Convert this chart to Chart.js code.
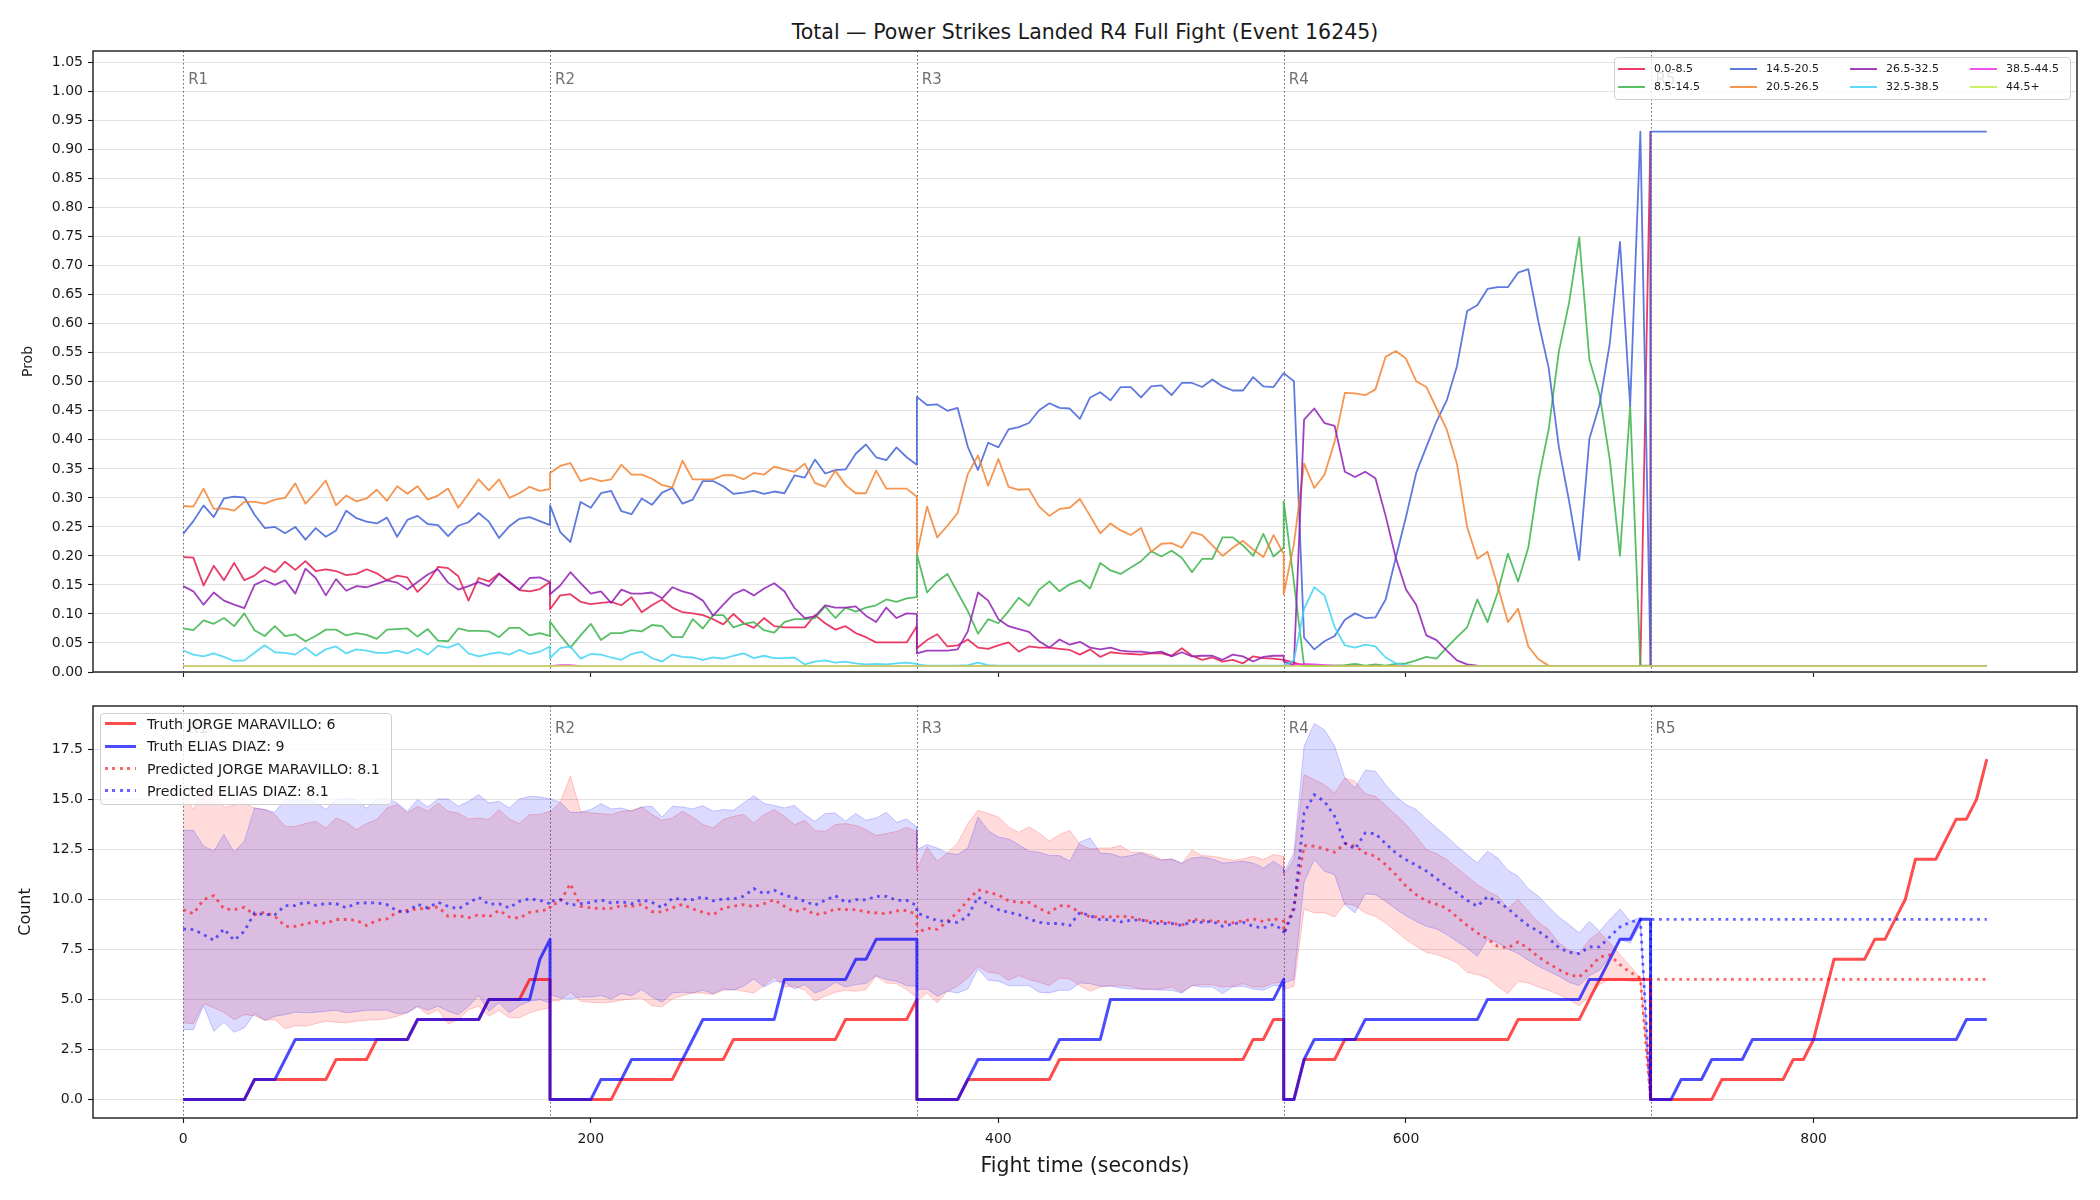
<!DOCTYPE html>
<html lang="en">
<head>
<meta charset="UTF-8">
<title>Total — Power Strikes Landed R4 Full Fight (Event 16245)</title>
<script src="https://cdn.jsdelivr.net/npm/chart.js@4.4.1/dist/chart.umd.min.js"></script>
<style>
    * { box-sizing: border-box; margin: 0; padding: 0; }
    body {
        width: 2100px; height: 1200px; background: #fff;
        position: relative; overflow: hidden;
        font-family: 'DejaVu Sans', sans-serif; color: #1a1a1a;
    }
    #chart-title {
        position: absolute; left: 93px; width: 1984px; top: 20px;
        text-align: center; font-size: 20.5px; line-height: 24px;
    }
    .panel { position: absolute; left: 0; }
    .legend {
        position: absolute; background: rgba(255, 255, 255, 0.8);
        border: 1px solid #cfcfcf; border-radius: 4px;
    }
    .legend-item { position: absolute; white-space: nowrap; }
    .legend-swatch { position: absolute; }
</style>
</head>
<body>
<div id="chart-title">Total — Power Strikes Landed R4 Full Fight (Event 16245)</div>
<canvas id="prob-chart" class="panel" width="2100" height="690" style="top:0"></canvas>
<canvas id="count-chart" class="panel" width="2100" height="510" style="top:690px"></canvas>
<div id="prob-legend" class="legend" style="left:1614px;top:57px;width:457px;height:43px"></div>
<div id="count-legend" class="legend" style="left:100px;top:713px;width:292px;height:92px"></div>

<script>
// ---- rounds / ticks ----
const roundStarts = [0, 180, 360, 540, 720];
const roundLabels = ['R1', 'R2', 'R3', 'R4', 'R5'];
const timeTicks = [0, 200, 400, 600, 800];
const probTicks = [0, 0.05, 0.10, 0.15, 0.20, 0.25, 0.30, 0.35, 0.40, 0.45, 0.50,
                   0.55, 0.60, 0.65, 0.70, 0.75, 0.80, 0.85, 0.90, 0.95, 1.00, 1.05];
const countTicks = [0, 2.5, 5, 7.5, 10, 12.5, 15, 17.5];

// samples every 5 s inside each round; rounds R1-R4 restart at their start time
function roundGrid(start, end) {
    const t = [];
    for (let v = start; v <= end; v += 5) t.push(v);
    return t;
}
const gridR1toR4 = [0, 180, 360, 540].flatMap(s => roundGrid(s, s + 180));
const probTimes = gridR1toR4.concat([720, 885]);
const truthTimes = gridR1toR4.concat(roundGrid(720, 885));
const predTimes = gridR1toR4.concat([720, 885]);
const bandTimes = gridR1toR4;

// ---- top panel: bin probabilities ----
const probBins = ['0.0-8.5', '8.5-14.5', '14.5-20.5', '20.5-26.5', '26.5-32.5', '32.5-38.5', '38.5-44.5', '44.5+'];
const binColors = ['#e6194b', '#3cb44b', '#4363d8', '#f58231', '#911eb4', '#42d4f4', '#f032e6', '#bfef45'];

const prob0to8 = [
    0.198,0.197,0.149,0.183,0.158,0.188,0.158,0.166,0.181,0.172,0.190,0.176,0.191,0.174,0.177,0.174,0.167,0.169,0.177,0.170,0.158,0.166,0.163,0.138,0.155,0.181,0.179,0.165,0.123,0.162,0.156,0.170,0.155,0.141,0.139,0.143,0.155,
    0.108,0.132,0.134,0.121,0.117,0.119,0.121,0.115,0.129,0.103,0.115,0.125,0.111,0.103,0.101,0.098,0.091,0.082,0.100,0.084,0.076,0.093,0.079,0.077,0.077,0.077,0.098,0.084,0.073,0.079,0.067,0.060,0.051,0.051,0.051,0.051,0.079,
    0.041,0.055,0.065,0.044,0.046,0.056,0.042,0.040,0.046,0.051,0.035,0.044,0.042,0.042,0.040,0.038,0.030,0.039,0.026,0.034,0.032,0.031,0.030,0.032,0.032,0.028,0.041,0.028,0.021,0.025,0.018,0.021,0.015,0.027,0.024,0.023,0.021,
    0.021,0.016,0.011,0.01,0.01,0.01,0.01,0.01,0.01,0.01,0.01,0.01,0.01,0.01,0.01,0.01,0.01,0.01,0.01,0.01,0.01,0.01,0.01,0.01,0.01,0.01,0.01,0.01,0.01,0.01,0.01,0.01,0.01,0.01,0.01,0.01,0.931,
    0.01,0.01
];
const prob8to14 = [
    0.075,0.072,0.089,0.083,0.093,0.079,0.101,0.072,0.062,0.079,0.062,0.065,0.053,0.062,0.073,0.073,0.063,0.067,0.064,0.057,0.073,0.074,0.075,0.061,0.074,0.054,0.053,0.075,0.071,0.071,0.070,0.060,0.076,0.076,0.063,0.067,0.062,
    0.087,0.063,0.042,0.063,0.083,0.055,0.067,0.067,0.072,0.070,0.081,0.079,0.060,0.060,0.091,0.075,0.098,0.098,0.077,0.083,0.086,0.072,0.068,0.086,0.091,0.091,0.093,0.113,0.093,0.111,0.104,0.111,0.115,0.125,0.121,0.127,0.129,
    0.203,0.137,0.156,0.169,0.137,0.105,0.066,0.091,0.084,0.105,0.128,0.114,0.142,0.156,0.139,0.151,0.158,0.144,0.188,0.175,0.169,0.180,0.191,0.208,0.199,0.209,0.197,0.172,0.195,0.195,0.232,0.232,0.218,0.200,0.238,0.199,0.214,
    0.294,0.155,0.011,0.011,0.011,0.011,0.012,0.014,0.011,0.013,0.011,0.014,0.015,0.020,0.026,0.023,0.042,0.060,0.077,0.125,0.086,0.137,0.204,0.156,0.214,0.331,0.418,0.552,0.636,0.749,0.538,0.478,0.366,0.200,0.459,0.011,0.011,
    0.01,0.01
];
const prob14to20 = [
    0.238,0.260,0.287,0.267,0.299,0.302,0.301,0.271,0.248,0.250,0.239,0.250,0.228,0.248,0.233,0.244,0.278,0.265,0.259,0.256,0.266,0.233,0.262,0.269,0.255,0.253,0.234,0.252,0.258,0.274,0.259,0.231,0.251,0.264,0.267,0.260,0.253,
    0.287,0.241,0.224,0.293,0.283,0.308,0.312,0.277,0.272,0.299,0.288,0.309,0.317,0.290,0.297,0.329,0.329,0.320,0.307,0.309,0.312,0.307,0.311,0.308,0.339,0.335,0.366,0.342,0.348,0.349,0.376,0.392,0.370,0.365,0.387,0.370,0.357,
    0.474,0.460,0.461,0.450,0.455,0.388,0.348,0.395,0.387,0.418,0.422,0.429,0.451,0.463,0.455,0.454,0.436,0.473,0.482,0.468,0.491,0.491,0.473,0.492,0.494,0.477,0.498,0.498,0.491,0.504,0.492,0.485,0.485,0.508,0.492,0.491,0.515,
    0.515,0.501,0.059,0.039,0.053,0.062,0.090,0.101,0.093,0.094,0.125,0.197,0.267,0.343,0.388,0.432,0.468,0.527,0.622,0.632,0.660,0.663,0.663,0.688,0.694,0.603,0.524,0.388,0.295,0.193,0.402,0.461,0.566,0.741,0.459,0.931,0.011,
    0.931,0.931
];
const prob20to26 = [
    0.286,0.285,0.316,0.281,0.282,0.278,0.293,0.293,0.290,0.297,0.300,0.325,0.290,0.309,0.330,0.287,0.304,0.294,0.299,0.314,0.295,0.320,0.307,0.320,0.297,0.304,0.316,0.283,0.307,0.332,0.313,0.332,0.300,0.308,0.319,0.312,0.315,
    0.343,0.355,0.360,0.329,0.334,0.329,0.332,0.357,0.340,0.340,0.333,0.322,0.318,0.364,0.332,0.332,0.332,0.339,0.339,0.332,0.343,0.340,0.354,0.349,0.345,0.359,0.326,0.319,0.347,0.322,0.308,0.308,0.347,0.316,0.316,0.316,0.302,
    0.203,0.285,0.232,0.252,0.274,0.341,0.373,0.321,0.367,0.319,0.314,0.315,0.285,0.269,0.281,0.283,0.298,0.269,0.239,0.256,0.244,0.236,0.248,0.207,0.221,0.222,0.214,0.241,0.236,0.218,0.200,0.214,0.226,0.211,0.198,0.236,0.203,
    0.134,0.220,0.359,0.317,0.340,0.397,0.481,0.480,0.477,0.487,0.543,0.553,0.540,0.501,0.491,0.454,0.418,0.359,0.250,0.195,0.207,0.148,0.086,0.109,0.044,0.022,0.011,0.01,0.01,0.01,0.01,0.01,0.01,0.01,0.01,0.01,0.01,
    0.01,0.01
];
const prob26to32 = [
    0.148,0.139,0.116,0.137,0.123,0.116,0.110,0.150,0.158,0.150,0.158,0.135,0.178,0.162,0.132,0.160,0.140,0.148,0.146,0.152,0.158,0.154,0.142,0.155,0.168,0.177,0.154,0.142,0.148,0.155,0.148,0.169,0.156,0.142,0.162,0.163,0.155,
    0.134,0.149,0.172,0.153,0.135,0.139,0.119,0.142,0.135,0.135,0.137,0.127,0.146,0.139,0.134,0.123,0.097,0.116,0.134,0.142,0.132,0.144,0.153,0.139,0.110,0.093,0.096,0.115,0.111,0.111,0.113,0.097,0.086,0.111,0.093,0.101,0.100,
    0.032,0.037,0.037,0.037,0.039,0.070,0.137,0.123,0.091,0.079,0.074,0.069,0.053,0.042,0.056,0.047,0.052,0.042,0.039,0.042,0.037,0.035,0.035,0.033,0.035,0.027,0.034,0.027,0.028,0.028,0.021,0.030,0.027,0.018,0.026,0.028,0.028,
    0.018,0.012,0.435,0.454,0.429,0.424,0.345,0.336,0.345,0.334,0.269,0.197,0.142,0.116,0.063,0.055,0.037,0.020,0.013,0.011,0.01,0.01,0.01,0.01,0.01,0.01,0.01,0.01,0.01,0.01,0.01,0.01,0.01,0.01,0.01,0.01,0.01,
    0.01,0.01
];
const prob32to38 = [
    0.037,0.030,0.027,0.032,0.026,0.019,0.020,0.033,0.046,0.034,0.033,0.030,0.042,0.028,0.039,0.044,0.032,0.039,0.037,0.033,0.033,0.037,0.032,0.040,0.030,0.045,0.042,0.049,0.032,0.027,0.031,0.034,0.030,0.038,0.031,0.035,0.044,
    0.024,0.041,0.044,0.023,0.031,0.030,0.025,0.021,0.031,0.035,0.024,0.018,0.030,0.026,0.025,0.021,0.025,0.023,0.028,0.032,0.024,0.028,0.024,0.024,0.025,0.013,0.018,0.020,0.016,0.018,0.015,0.013,0.014,0.013,0.015,0.016,0.014,
    0.013,0.011,0.011,0.011,0.011,0.012,0.016,0.012,0.011,0.011,0.011,0.011,0.011,0.011,0.011,0.011,0.011,0.011,0.011,0.011,0.011,0.011,0.011,0.011,0.011,0.011,0.011,0.011,0.011,0.011,0.011,0.011,0.011,0.011,0.011,0.011,0.011,
    0.011,0.020,0.109,0.146,0.132,0.077,0.046,0.042,0.047,0.044,0.025,0.015,0.012,0.01,0.01,0.01,0.01,0.01,0.01,0.01,0.01,0.01,0.01,0.01,0.01,0.01,0.01,0.01,0.01,0.01,0.01,0.01,0.01,0.01,0.01,0.01,0.01,
    0.01,0.01
];
const prob38to44 = [
    0.01,0.01,0.01,0.01,0.01,0.01,0.01,0.01,0.01,0.01,0.01,0.01,0.01,0.01,0.01,0.01,0.01,0.01,0.01,0.01,0.01,0.01,0.01,0.01,0.01,0.01,0.01,0.01,0.01,0.01,0.01,0.01,0.01,0.01,0.01,0.01,0.01,
    0.01,0.012,0.012,0.01,0.01,0.01,0.01,0.01,0.01,0.01,0.01,0.01,0.01,0.01,0.01,0.01,0.01,0.01,0.01,0.01,0.01,0.01,0.01,0.01,0.01,0.01,0.01,0.01,0.01,0.01,0.01,0.01,0.01,0.01,0.01,0.01,0.01,
    0.01,0.01,0.01,0.01,0.01,0.01,0.01,0.01,0.01,0.01,0.01,0.01,0.01,0.01,0.01,0.01,0.01,0.01,0.01,0.01,0.01,0.01,0.01,0.01,0.01,0.01,0.01,0.01,0.01,0.01,0.01,0.01,0.01,0.01,0.01,0.01,0.01,
    0.01,0.012,0.014,0.013,0.012,0.011,0.01,0.01,0.01,0.01,0.01,0.01,0.01,0.01,0.01,0.01,0.01,0.01,0.01,0.01,0.01,0.01,0.01,0.01,0.01,0.01,0.01,0.01,0.01,0.01,0.01,0.01,0.01,0.01,0.01,0.01,0.01,
    0.01,0.01
];
const prob44plus = [
    0.01,0.01,0.01,0.01,0.01,0.01,0.01,0.01,0.01,0.01,0.01,0.01,0.01,0.01,0.01,0.01,0.01,0.01,0.01,0.01,0.01,0.01,0.01,0.01,0.01,0.01,0.01,0.01,0.01,0.01,0.01,0.01,0.01,0.01,0.01,0.01,0.01,
    0.01,0.01,0.01,0.01,0.01,0.01,0.01,0.01,0.01,0.01,0.01,0.01,0.01,0.01,0.01,0.01,0.01,0.01,0.01,0.01,0.01,0.01,0.01,0.01,0.01,0.01,0.01,0.01,0.01,0.01,0.01,0.01,0.01,0.01,0.01,0.01,0.01,
    0.01,0.01,0.01,0.01,0.01,0.01,0.01,0.01,0.01,0.01,0.01,0.01,0.01,0.01,0.01,0.01,0.01,0.01,0.01,0.01,0.01,0.01,0.01,0.01,0.01,0.01,0.01,0.01,0.01,0.01,0.01,0.01,0.01,0.01,0.01,0.01,0.01,
    0.01,0.01,0.01,0.01,0.01,0.01,0.01,0.01,0.01,0.01,0.01,0.01,0.01,0.01,0.01,0.01,0.01,0.01,0.01,0.01,0.01,0.01,0.01,0.01,0.01,0.01,0.01,0.01,0.01,0.01,0.01,0.01,0.01,0.01,0.01,0.01,0.01,
    0.01,0.01
];
const probSeries = [prob0to8, prob8to14, prob14to20, prob20to26, prob26to32, prob32to38, prob38to44, prob44plus];

// ---- bottom panel: cumulative counts ----
const fighters = ['JORGE MARAVILLO', 'ELIAS DIAZ'];
const truthFinal = [6, 9];
const predFinal = [8.1, 8.1];

const truthJorge = [
    0,0,0,0,0,0,0,1,1,1, 1,1,1,1,1,2,2,2,2,3, 3,3,3,4,4,4,4,4,4,4, 5,5,5,5,6,6,6,
    0,0,0,0,0,0,0,1,1,1, 1,1,1,2,2,2,2,2,3,3, 3,3,3,3,3,3,3,3,3,4, 4,4,4,4,4,4,5,
    0,0,0,0,0,1,1,1,1,1, 1,1,1,1,2,2,2,2,2,2, 2,2,2,2,2,2,2,2,2,2, 2,2,2,3,3,4,4,
    0,0,2,2,2,2,3,3,3,3, 3,3,3,3,3,3,3,3,3,3, 3,3,3,4,4,4,4,4,4,4, 5,6,6,6,6,6,6,
    0,0,0,0,0,0,0,1,1,1, 1,1,1,1,2,2,3,5,7,7, 7,7,8,8,9,10,12,12,12,13, 14,14,15,17
];
const truthElias = [
    0,0,0,0,0,0,0,1,1,1, 2,3,3,3,3,3,3,3,3,3, 3,3,3,4,4,4,4,4,4,4, 5,5,5,5,5,7,8,
    0,0,0,0,0,1,1,1,2,2, 2,2,2,2,3,4,4,4,4,4, 4,4,4,6,6,6,6,6,6,6, 7,7,8,8,8,8,8,
    0,0,0,0,0,1,2,2,2,2, 2,2,2,2,3,3,3,3,3,5, 5,5,5,5,5,5,5,5,5,5, 5,5,5,5,5,5,6,
    0,0,2,3,3,3,3,3,4,4, 4,4,4,4,4,4,4,4,4,4, 5,5,5,5,5,5,5,5,5,5, 6,6,7,8,8,9,9,
    0,0,0,1,1,1,2,2,2,2, 3,3,3,3,3,3,3,3,3,3, 3,3,3,3,3,3,3,3,3,3, 3,4,4,4
];
const predJorge = [
    9.48,9.28,9.98,10.18,9.53,9.48,9.60,9.23,9.35,9.15,8.65,8.65,8.77,8.89,8.79,8.99,8.99,8.95,8.69,8.95,9.02,9.37,9.45,9.52,9.55,9.62,9.15,9.18,9.08,9.23,9.12,9.45,9.12,9.05,9.35,9.42,9.52,
    9.68,9.88,10.78,9.65,9.57,9.53,9.55,9.68,9.65,9.75,9.38,9.37,9.57,9.75,9.52,9.35,9.22,9.57,9.65,9.73,9.63,9.78,9.98,9.65,9.38,9.52,9.23,9.32,9.52,9.48,9.48,9.37,9.32,9.28,9.42,9.45,9.23,
    8.32,8.55,8.50,8.90,9.35,9.95,10.47,10.35,10.22,9.92,9.85,9.85,9.55,9.32,9.68,9.65,9.35,9.12,9.12,9.12,9.15,9.12,8.97,8.90,8.89,8.82,8.69,9.02,8.94,8.92,8.89,8.82,8.92,9.02,8.89,9.04,8.90,
    8.32,9.65,12.68,12.65,12.51,12.35,12.78,12.65,12.31,12.15,11.73,11.23,10.65,10.23,9.92,9.75,9.55,9.12,8.70,8.32,8.02,7.65,7.57,7.87,7.55,7.12,6.79,6.49,6.24,6.12,6.56,7.12,7.22,6.74,6.36,6.07,0,
    6,6
];
const predElias = [
    8.52,8.49,8.24,7.95,8.52,7.95,8.40,9.32,9.23,9.23,9.68,9.68,9.87,9.70,9.78,9.78,9.57,9.80,9.82,9.82,9.73,9.42,9.37,9.75,9.57,9.85,9.65,9.52,9.82,10.10,9.75,9.78,9.57,9.90,10.02,9.95,9.78,
    9.90,9.98,9.70,9.78,9.85,9.97,9.82,9.87,9.78,9.97,9.85,9.57,10.05,10.00,9.98,10.12,9.92,10.02,10.02,10.15,10.53,10.28,10.45,10.20,10.08,9.90,9.70,9.95,10.18,9.85,9.98,9.97,10.15,10.15,9.95,9.95,9.68,
    9.32,9.12,8.94,8.89,8.85,9.15,10.12,9.73,9.48,9.35,9.23,9.02,8.85,8.79,8.79,8.69,9.35,9.18,8.98,8.98,8.87,8.95,8.97,8.82,8.79,8.79,8.69,8.89,8.85,8.90,8.65,8.77,8.85,8.65,8.57,8.74,8.45,
    8.24,9.48,14.31,15.22,14.89,14.14,12.81,12.51,13.31,13.28,12.78,12.31,11.98,11.70,11.41,11.03,10.65,10.32,9.95,9.65,10.13,9.87,9.55,9.08,8.69,8.40,8.05,7.59,7.35,7.29,7.62,7.62,8.12,8.62,8.85,8.99,0,
    9,9
];
const jorgeUpper = [
    15.2,14.5,15.4,15.5,14.6,14.7,14.8,14.56,14.48,14.23,13.64,13.64,13.78,13.89,13.56,14.06,13.84,13.48,13.78,13.98,14.56,14.73,14.31,14.64,14.39,14.81,14.39,14.31,14.01,14.06,13.98,14.48,14.01,13.78,14.23,14.23,14.39,
    14.34,14.84,16.14,14.39,14.31,14.28,14.23,14.39,14.44,14.61,14.23,13.94,14.06,14.39,14.11,13.73,13.56,13.98,14.14,14.23,13.81,14.23,14.48,14.14,13.73,13.94,13.44,13.39,13.73,13.78,13.68,13.48,13.18,13.28,13.39,13.59,13.39,
    11.48,12.61,11.90,12.31,12.81,13.78,14.44,14.28,14.11,13.61,13.34,13.61,13.31,12.90,13.23,13.44,12.73,12.51,12.56,12.56,12.68,12.35,12.35,12.23,11.98,12.01,11.78,12.45,12.18,12.15,12.06,11.95,12.01,12.15,11.98,12.23,12.15,
    11.2,12.0,16.22,15.97,15.72,15.31,16.06,15.89,15.27,15.14,14.68,14.23,13.73,13.14,12.48,12.28,11.98,11.56,11.15,10.73,10.40,10.15,9.57,9.98,9.40,8.85,8.49,7.82,7.45,7.32,7.99,8.35,7.82,7.24,6.66,6.07,0
];
const jorgeLower = [
    3.83,3.79,4.79,4.58,4.36,3.99,4.24,4.19,3.96,3.99,3.53,3.69,3.66,3.79,3.91,3.86,3.83,3.91,3.96,3.99,4.03,4.16,4.33,4.63,4.24,4.49,3.79,3.99,4.49,4.66,4.16,4.46,4.08,4.08,4.33,4.49,4.58,
    4.91,4.96,5.36,4.91,4.86,4.83,4.86,4.96,5.02,5.07,4.69,4.63,5.02,5.19,5.32,5.32,5.24,5.46,5.49,5.41,5.32,5.69,6.12,5.62,5.66,5.46,4.91,5.16,5.36,5.46,5.41,5.49,6.16,5.82,5.79,5.49,5.07,
    4.91,5.32,4.83,5.41,5.66,6.07,6.66,6.36,6.29,5.96,6.19,5.99,5.86,5.69,6.07,6.02,5.69,5.41,5.62,5.69,5.69,5.66,5.49,5.52,5.52,5.62,5.36,5.69,5.74,5.74,5.62,5.66,5.79,5.62,5.62,5.82,5.86,
    5.49,5.66,9.52,9.32,9.32,9.12,9.78,9.68,9.32,9.15,8.82,8.40,7.99,7.65,7.35,7.24,7.07,6.82,6.36,6.24,6.07,5.66,5.29,5.91,5.82,5.62,5.46,5.24,4.99,4.69,5.16,5.74,6.02,6.02,5.91,5.91,0
];
const eliasUpper = [
    13.43,13.45,12.65,12.40,13.23,12.35,12.90,14.56,14.48,14.34,15.01,14.94,14.98,14.86,14.48,14.98,15.06,14.98,14.54,15.01,15.04,14.81,14.39,14.98,14.61,15.01,15.01,14.64,14.89,15.22,14.81,14.89,14.56,15.01,15.14,15.11,15.01,
    15.01,14.84,14.34,14.34,14.48,14.78,14.51,14.56,14.39,14.61,14.64,14.11,14.64,14.61,14.51,14.68,14.39,14.48,14.44,14.81,15.17,14.78,14.68,14.56,14.68,14.23,13.89,14.28,14.31,13.89,14.28,13.94,14.06,14.34,13.84,14.01,13.61,
    12.48,12.73,12.56,12.31,12.23,12.56,14.11,13.44,13.11,13.01,12.73,12.40,12.35,12.18,12.18,11.90,12.85,13.06,12.31,12.28,12.11,12.18,12.31,12.11,11.95,12.01,11.81,12.06,12.11,12.01,11.81,11.85,11.90,11.81,11.56,11.90,11.56,
    11.31,12.31,17.64,18.77,18.47,17.64,16.06,15.56,16.44,16.39,15.72,15.14,14.73,14.48,14.01,13.56,13.14,12.65,12.23,11.81,12.40,12.06,11.45,11.15,10.52,10.15,9.62,9.12,8.74,8.32,8.90,8.40,8.99,9.52,8.90,9.10,0
];
const eliasLower = [
    3.49,3.49,4.69,3.41,3.86,3.36,3.58,4.29,3.96,4.16,4.24,4.36,4.33,4.36,4.41,4.46,4.33,4.39,4.46,4.46,4.46,4.29,4.33,4.66,4.46,4.66,4.41,4.24,4.66,5.19,4.41,4.83,4.33,4.69,4.91,4.99,4.83,
    5.24,5.07,5.02,5.12,5.12,5.19,5.02,5.29,5.19,5.49,5.12,4.86,5.32,5.36,5.32,5.46,5.29,5.52,5.46,5.66,6.02,5.62,5.91,5.86,5.52,5.74,5.32,5.52,5.86,5.62,5.74,5.79,6.19,5.99,5.91,5.69,5.66,
    5.49,5.52,5.16,5.41,5.32,5.52,6.52,5.96,5.91,5.69,5.69,5.69,5.36,5.32,5.46,5.46,5.82,5.79,5.66,5.66,5.57,5.52,5.52,5.49,5.46,5.46,5.32,5.69,5.62,5.62,5.29,5.62,5.66,5.52,5.46,5.69,5.66,
    5.82,5.99,10.85,11.98,11.40,11.23,9.73,9.32,10.28,10.23,9.90,9.52,9.18,8.90,8.65,8.52,8.24,7.90,7.57,7.15,8.02,7.82,7.52,7.29,6.96,6.66,6.41,6.16,5.86,5.69,6.19,6.46,7.15,7.99,7.82,8.75,0
];

// ---- helpers ----
function rgba(hex, a) {
    const n = parseInt(hex.slice(1), 16);
    return `rgba(${(n >> 16) & 255},${(n >> 8) & 255},${n & 255},${a})`;
}
function points(times, values) {
    if (times.length !== values.length) console.error('length mismatch', times.length, values.length);
    return values.map((v, i) => ({ x: times[i], y: v }));
}

Chart.defaults.font.family = "'DejaVu Sans', sans-serif";
Chart.defaults.color = '#1a1a1a';

// dotted round separators, round labels and the full axes frame
const roundMarks = {
    id: 'roundMarks',
    beforeDatasetsDraw(chart) {
        const { ctx, chartArea: a, scales: { x } } = chart;
        ctx.save();
        ctx.beginPath();
        ctx.rect(a.left, a.top, a.right - a.left, a.bottom - a.top);
        ctx.clip();
        ctx.strokeStyle = 'rgba(70,70,70,0.8)';
        ctx.lineWidth = 1;
        ctx.setLineDash([1.6, 2.4]);
        roundStarts.forEach(t => {
            const px = Math.round(x.getPixelForValue(t)) + 0.5;
            ctx.beginPath();
            ctx.moveTo(px, a.top);
            ctx.lineTo(px, a.bottom);
            ctx.stroke();
        });
        ctx.setLineDash([]);
        ctx.fillStyle = '#707070';
        ctx.font = "15px 'DejaVu Sans'";
        ctx.textBaseline = 'top';
        roundStarts.forEach((t, i) => {
            ctx.fillText(roundLabels[i], x.getPixelForValue(t) + 5, a.top + 0.03 * (a.bottom - a.top) + 3);
        });
        ctx.restore();
    },
    afterDraw(chart) {
        const { ctx, chartArea: a } = chart;
        ctx.save();
        ctx.strokeStyle = '#1a1a1a';
        ctx.lineWidth = 1.4;
        ctx.strokeRect(a.left, a.top, a.right - a.left, a.bottom - a.top);
        ctx.restore();
    }
};

const tickFont = { size: 14 };
function xScale(showLabels, height) {
    return {
        type: 'linear', min: -44.25, max: 929.25,
        afterBuildTicks: s => { s.ticks = timeTicks.map(v => ({ value: v })); },
        afterFit: s => { s.height = height; },
        ticks: { display: showLabels, font: tickFont, color: '#1a1a1a', padding: 8, maxRotation: 0 },
        grid: { drawOnChartArea: false, drawTicks: true, tickLength: 5, tickColor: '#1a1a1a', tickWidth: 1.1 },
        border: { display: false }
    };
}
function yScale(min, max, tickValues, digits, title, titleSize, titlePad) {
    return {
        type: 'linear', min: min, max: max,
        afterBuildTicks: s => { s.ticks = tickValues.map(v => ({ value: v })); },
        afterFit: s => { s.width = 93; },
        ticks: { font: tickFont, color: '#1a1a1a', padding: 5, callback: v => Number(v).toFixed(digits) },
        grid: { color: '#e2e2e2', lineWidth: 1, tickColor: '#1a1a1a', tickLength: 5, tickWidth: 1.1 },
        border: { display: false },
        title: { display: true, text: title, font: { size: titleSize }, color: '#1a1a1a', padding: { top: titlePad, bottom: 0 } }
    };
}

// ---- top chart ----
new Chart(document.getElementById('prob-chart'), {
    type: 'line',
    data: {
        datasets: probBins.map((label, i) => ({
            label: label,
            data: points(probTimes, probSeries[i]),
            borderColor: rgba(binColors[i], 0.85),
            backgroundColor: rgba(binColors[i], 0.85),
            borderWidth: 1.8,
            borderJoinStyle: 'round',
            pointRadius: 0,
            tension: 0,
            fill: false,
            order: probBins.length - i
        }))
    },
    options: {
        responsive: false, animation: false, events: [],
        layout: { padding: { top: 51, right: 23, left: 0, bottom: 0 } },
        plugins: { legend: { display: false }, title: { display: false }, tooltip: { enabled: false } },
        scales: {
            x: xScale(false, 18),
            y: yScale(0, 1.07, probTicks, 2, 'Prob', 14, 20)
        }
    },
    plugins: [roundMarks]
});

// ---- bottom chart ----
const red = '#ff0000', blue = '#0000ff';
function bandEdge(times, values, color, fillTo, order) {
    return {
        data: points(times, values),
        borderColor: rgba(color, 0.2), borderWidth: 1,
        backgroundColor: rgba(color, 0.14),
        pointRadius: 0, tension: 0, fill: fillTo, order: order
    };
}
new Chart(document.getElementById('count-chart'), {
    type: 'line',
    data: {
        datasets: [
            bandEdge(bandTimes, jorgeUpper, red, '+1', 20),
            bandEdge(bandTimes, jorgeLower, red, false, 19),
            bandEdge(bandTimes, eliasUpper, blue, '+1', 18),
            bandEdge(bandTimes, eliasLower, blue, false, 17),
            { label: 'Truth ' + fighters[0], data: points(truthTimes, truthJorge), borderColor: rgba(red, 0.7),
              borderWidth: 3, borderJoinStyle: 'round', pointRadius: 0, tension: 0, fill: false, order: 6 },
            { label: 'Truth ' + fighters[1], data: points(truthTimes, truthElias), borderColor: rgba(blue, 0.7),
              borderWidth: 3, borderJoinStyle: 'round', pointRadius: 0, tension: 0, fill: false, order: 5 },
            { label: 'Predicted ' + fighters[0], data: points(predTimes, predJorge), borderColor: rgba(red, 0.6),
              borderWidth: 2.8, borderDash: [2.8, 4.6], borderCapStyle: 'butt', pointRadius: 0, tension: 0, fill: false, order: 4 },
            { label: 'Predicted ' + fighters[1], data: points(predTimes, predElias), borderColor: rgba(blue, 0.6),
              borderWidth: 2.8, borderDash: [2.8, 4.6], borderCapStyle: 'butt', pointRadius: 0, tension: 0, fill: false, order: 3 }
        ]
    },
    options: {
        responsive: false, animation: false, events: [],
        layout: { padding: { top: 16, right: 23, left: 0, bottom: 0 } },
        plugins: { legend: { display: false }, title: { display: false }, tooltip: { enabled: false },
                   filler: { propagate: false } },
        scales: {
            x: Object.assign(xScale(true, 82), {
                title: { display: true, text: 'Fight time (seconds)', font: { size: 20.5 }, color: '#1a1a1a', padding: { top: 0, bottom: 21 } }
            }),
            y: yScale(-0.92, 19.65, countTicks, 1, 'Count', 16, 16)
        }
    },
    plugins: [roundMarks]
});

// ---- legends (html, matplotlib-like boxes) ----
function addItem(box, swatchX, swatchW, swatchH, swatchBg, textX, cy, text, fontSize) {
    const sw = document.createElement('div');
    sw.className = 'legend-swatch';
    sw.style.left = swatchX + 'px';
    sw.style.width = swatchW + 'px';
    sw.style.height = swatchH + 'px';
    sw.style.top = (cy - swatchH / 2) + 'px';
    sw.style.background = swatchBg;
    box.appendChild(sw);
    const lb = document.createElement('div');
    lb.className = 'legend-item';
    lb.style.left = textX + 'px';
    lb.style.fontSize = fontSize + 'px';
    lb.style.lineHeight = Math.round(fontSize * 1.25) + 'px';
    lb.style.top = (cy - Math.round(fontSize * 1.25) / 2) + 'px';
    lb.textContent = text;
    box.appendChild(lb);
}

const probLegend = document.getElementById('prob-legend');
const probLegendCols = [3, 115, 235, 355];
const probLegendRows = [11, 29];
probBins.forEach((label, i) => {
    const col = Math.floor(i / 2), row = i % 2;
    addItem(probLegend, probLegendCols[col], 27, 2, rgba(binColors[i], 0.85),
            probLegendCols[col] + 36, probLegendRows[row], label, 11);
});

const countLegend = document.getElementById('count-legend');
const countLegendRows = [9.5, 32, 54.5, 76.5];
const dotted = c => `repeating-linear-gradient(90deg, ${c} 0 2.8px, transparent 2.8px 7.4px)`;
addItem(countLegend, 4, 31, 3, rgba(red, 0.7), 46, countLegendRows[0], `Truth ${fighters[0]}: ${truthFinal[0]}`, 14.2);
addItem(countLegend, 4, 31, 3, rgba(blue, 0.7), 46, countLegendRows[1], `Truth ${fighters[1]}: ${truthFinal[1]}`, 14.2);
addItem(countLegend, 4, 31, 3, dotted(rgba(red, 0.6)), 46, countLegendRows[2], `Predicted ${fighters[0]}: ${predFinal[0]}`, 14.2);
addItem(countLegend, 4, 31, 3, dotted(rgba(blue, 0.6)), 46, countLegendRows[3], `Predicted ${fighters[1]}: ${predFinal[1]}`, 14.2);
</script>
</body>
</html>
